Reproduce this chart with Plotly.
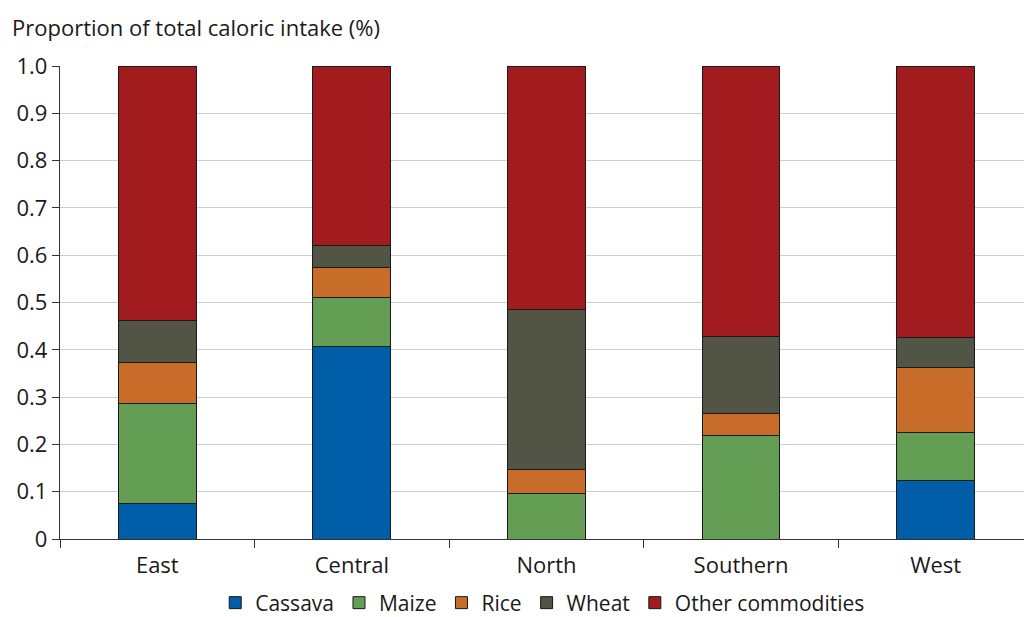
import plotly.graph_objects as go

regions = ["East", "Central", "North", "Southern", "West"]
cassava = [0.076, 0.408, 0.0, 0.0, 0.124]
maize = [0.210, 0.103, 0.096, 0.218, 0.101]
rice = [0.088, 0.064, 0.050, 0.047, 0.138]
wheat = [0.088, 0.045, 0.340, 0.164, 0.062]
other = [0.538, 0.380, 0.514, 0.571, 0.575]

series = [
    ("Cassava", cassava, "#005DA8"),
    ("Maize", maize, "#649E55"),
    ("Rice", rice, "#C76D29"),
    ("Wheat", wheat, "#525445"),
    ("Other commodities", other, "#A21C1F"),
]

FONT = "Open Sans"
SIZE = 22

fig = go.Figure()
for name, vals, color in series:
    fig.add_trace(go.Bar(
        name=name, x=regions, y=vals, width=0.4,
        marker=dict(color=color, line=dict(color="#1a1a1a", width=1)),
    ))

fig.update_layout(
    barmode="stack",
    width=1024, height=617,
    margin=dict(l=60, r=0, t=66, b=78, autoexpand=False),
    plot_bgcolor="white", paper_bgcolor="white",
    font=dict(family=FONT, size=SIZE, color="#1a1a1a"),
    showlegend=True,
    legend=dict(orientation="h", x=0.530, xref="container", xanchor="center",
                y=(617 - 603) / 617, yref="container", yanchor="middle",
                font=dict(size=21), itemwidth=30, tracegroupgap=0, traceorder="normal"),
    annotations=[dict(text="Proportion of total caloric intake (%)", xref="paper", yref="paper",
                      x=-0.052, y=1.0, xanchor="left", yanchor="bottom", yshift=22,
                      showarrow=False, font=dict(size=SIZE, family=FONT))],
)

fig.update_xaxes(
    type="category", range=[-0.5, 4.454], tickson="boundaries",
    ticks="outside", ticklen=8, tickcolor="#333333", tickwidth=1.3,
    showline=True, linecolor="#333333", linewidth=1.3, showgrid=False,
    ticklabelstandoff=6,
)
fig.update_yaxes(
    range=[0, 1.0], tickvals=[0, 0.1, 0.2, 0.3, 0.4, 0.5, 0.6, 0.7, 0.8, 0.9, 1.0],
    ticktext=["0", "0.1", "0.2", "0.3", "0.4", "0.5", "0.6", "0.7", "0.8", "0.9", "1.0"],
    ticks="outside", ticklen=7, tickcolor="#333333", tickwidth=1.3,
    showline=True, linecolor="#333333", linewidth=1.3,
    showgrid=True, gridcolor="#cfcfcf", gridwidth=1.3, zeroline=False,
)

fig.write_html("out.html")
